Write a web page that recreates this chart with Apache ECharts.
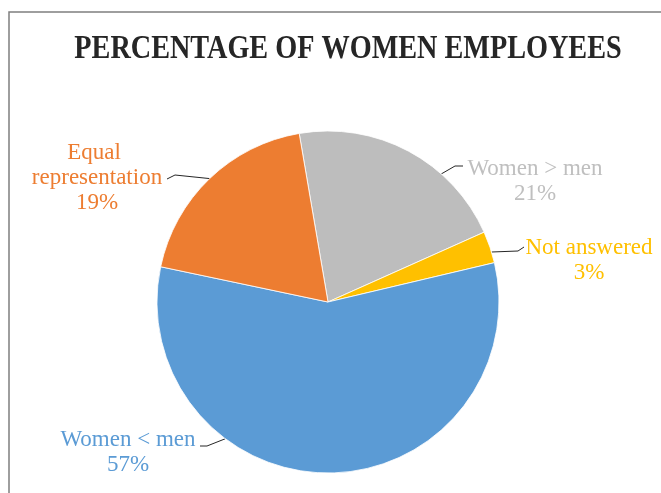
<!DOCTYPE html>
<html>
<head>
<meta charset="utf-8">
<script src="https://cdn.jsdelivr.net/npm/echarts@6/dist/echarts.min.js"></script>
<style>html,body{margin:0;padding:0;background:#fff}#c{width:661px;height:493px}</style>
</head>
<body>
<div id="c"></div>
<script>
// ---- data ----
const categories = ['Women > men', 'Not answered', 'Women < men', 'Equal representation'];
const values = [21, 3, 57, 19];
const titleText = 'PERCENTAGE OF WOMEN EMPLOYEES';

// ---- styles / layout ----
const colors = ['#BDBDBD', '#FFC000', '#5B9BD5', '#ED7D31'];
const labelColors = ['#BFBFBF', '#FFC000', '#5B9BD5', '#ED7D31'];
const labelAnchors = [[535, 181], [589, 260], [128, 452], [97, 178]];
// leader line: angle on rim where it attaches, elbow and end offsets from label anchor
const leaderAngles = [48.5, 17, 233.1, 133.8];
const leaderElbow = [[-80, -15], [-71, -9], [79, -6], [78, -3]];
const leaderEnd = [[-72, -15], [-65, -13], [72, -6], [70, 1]];
const pieCenter = [328, 302];
const pieRadius = 171;

const chart = echarts.init(document.getElementById('c'), null, {renderer: 'canvas'});
const serif = '"Liberation Serif", "DejaVu Serif", serif';

chart.setOption({
  animation: false,
  backgroundColor: '#fff',
  graphic: [
    {type: 'rect', shape: {x: 9, y: 12, width: 800, height: 700},
     style: {fill: 'none', stroke: '#7F7F7F', lineWidth: 1.5}, z: 0},
    {type: 'text', x: 348, y: 49, scaleX: 0.855,
     style: {x: 0, y: 0, text: titleText, textAlign: 'center', textVerticalAlign: 'middle',
      fontFamily: serif, fontWeight: 'bold', fontSize: 33, fill: '#262626'}}
  ],
  series: [{
    type: 'pie',
    center: pieCenter,
    radius: pieRadius,
    startAngle: 99.7,
    clockwise: true,
    avoidLabelOverlap: false,
    itemStyle: {borderColor: '#fff', borderWidth: 0.8},
    emphasis: {disabled: true},
    label: {
      show: true,
      position: 'outside',
      formatter: '{b}\n{d}%',
      fontFamily: serif,
      fontSize: 23,
      lineHeight: 25,
      width: 150,
      overflow: 'break',
      align: 'center'
    },
    labelLine: {show: true, length: 10, length2: 8, lineStyle: {color: '#262626', width: 1}},
    labelLayout: function (p) {
      const i = p.dataIndex;
      const a = labelAnchors[i];
      const ang = leaderAngles[i] * Math.PI / 180;
      const rim = [pieCenter[0] + pieRadius * Math.cos(ang), pieCenter[1] - pieRadius * Math.sin(ang)];
      return {
        x: a[0], y: a[1], align: 'center', verticalAlign: 'middle',
        labelLinePoints: [
          rim,
          [a[0] + leaderElbow[i][0], a[1] + leaderElbow[i][1]],
          [a[0] + leaderEnd[i][0], a[1] + leaderEnd[i][1]]
        ]
      };
    },
    data: categories.map((n, i) => ({
      name: n, value: values[i],
      itemStyle: {color: colors[i]},
      label: {color: labelColors[i]}
    }))
  }]
});
</script>
</body>
</html>
